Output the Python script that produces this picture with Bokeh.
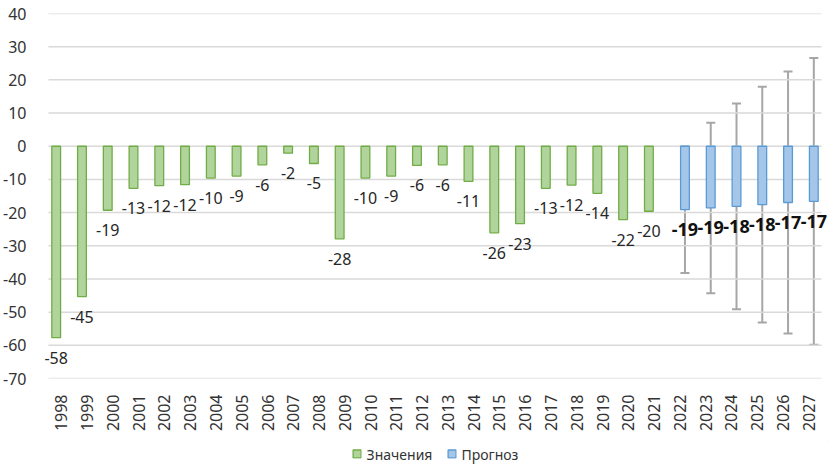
import math
from bokeh.plotting import figure
from bokeh.layouts import column
from bokeh.models import (ColumnDataSource, FixedTicker, Range1d, Whisker, TeeHead,
                          Legend, LegendItem, LabelSet)
from bokeh.transform import dodge
from bokeh.core.properties import value
from bokeh.embed import file_html
from bokeh.resources import INLINE

years = [str(y) for y in range(1998, 2028)]
hist_years = years[:24]
fc_years = years[24:]
hist_values = [-57.7, -45.3, -19.3, -12.7, -11.9, -11.6, -9.6, -9.0, -5.6, -2.1,
               -5.2, -27.9, -9.6, -9.0, -5.8, -5.6, -10.6, -26.1, -23.3, -12.7,
               -11.7, -14.2, -22.1, -19.6]
fc_values = [-19.1, -18.6, -18.1, -17.6, -16.96, -16.6]
fc_err = [19.1, 25.7, 31.0, 35.5, 39.5, 43.2]
y_ticks = list(range(-70, 41, 10))
legend_labels = ["Значения", "Прогноз"]

FONT = "Noto Sans"
GREEN_FILL = "#b0d49b"
GREEN_LINE = "#70ad47"
BLUE_FILL = "#a4c6e8"
BLUE_LINE = "#5b9bd5"

# layout in pixels: category band 43..821, frame widened so labels are not clipped
FIG_W = 828
FRAME_L = 37
CAT_W = (821 - 43) / len(years)
x_start = -0.5 - (43 - FRAME_L) / CAT_W
x_end = x_start + (FIG_W - FRAME_L) / CAT_W

idx = {y: i for i, y in enumerate(years)}
hist_src = ColumnDataSource(dict(
    x=[idx[y] for y in hist_years], top=hist_values,
    label=[str(int(round(v))) for v in hist_values]))
fc_src = ColumnDataSource(dict(
    x=[idx[y] for y in fc_years], top=fc_values,
    upper=[v + e for v, e in zip(fc_values, fc_err)],
    lower=[v - e for v, e in zip(fc_values, fc_err)],
    label=[str(int(round(v))) for v in fc_values]))

p = figure(width=FIG_W, height=440, output_backend="svg", toolbar_location=None,
           x_range=Range1d(x_start, x_end), y_range=Range1d(-70, 40),
           min_border_left=FRAME_L, min_border_right=0, min_border_top=13,
           min_border_bottom=62)
p.outline_line_color = None
p.background_fill_color = "white"

# horizontal grid lines spanning the category band only
p.segment(x0=[-0.5] * len(y_ticks), x1=[len(years) - 0.5] * len(y_ticks),
          y0=y_ticks, y1=y_ticks, line_color="#d9d9d9", line_width=1.5)

OFF = 0.2
W = 0.34
r_hist = p.vbar(x=dodge("x", -OFF), top="top", bottom=0, width=W, source=hist_src,
                fill_color=GREEN_FILL, line_color=GREEN_LINE, line_width=1.3)
r_fc = p.vbar(x=dodge("x", OFF), top="top", bottom=0, width=W, source=fc_src,
              fill_color=BLUE_FILL, line_color=BLUE_LINE, line_width=1.3)

wh = Whisker(base=dodge("x", OFF), upper="upper", lower="lower", source=fc_src,
             dimension="height", line_color="#a6a6a6", line_width=2,
             upper_head=TeeHead(size=9, line_color="#a6a6a6", line_width=2),
             lower_head=TeeHead(size=9, line_color="#a6a6a6", line_width=2))
p.add_layout(wh)

lab_hist = LabelSet(x=dodge("x", -OFF), y="top", text="label", source=hist_src,
                    text_align="center", text_baseline="middle", y_offset=-20,
                    text_font=value(FONT), text_font_size=value("16px"),
                    text_color="#262626")
lab_fc = LabelSet(x=dodge("x", OFF), y="top", text="label", source=fc_src,
                  text_align="center", text_baseline="middle", y_offset=-20,
                  text_font=value(FONT), text_font_size=value("18px"),
                  text_font_style="bold", text_color="#111111")
p.add_layout(lab_hist)
p.add_layout(lab_fc)

# axes
p.yaxis.ticker = FixedTicker(ticks=y_ticks)
p.yaxis.major_label_overrides = {t: str(t) for t in y_ticks}
p.yaxis.axis_line_color = None
p.yaxis.major_tick_line_color = None
p.yaxis.minor_tick_line_color = None
p.yaxis.major_label_standoff = 10
p.yaxis.major_label_text_font = FONT
p.yaxis.major_label_text_font_size = "16px"
p.yaxis.major_label_text_color = "#333333"

p.xaxis.ticker = FixedTicker(ticks=list(range(len(years))))
p.xaxis.major_label_overrides = {i: y for i, y in enumerate(years)}
p.xaxis.major_label_orientation = math.pi / 2
p.xaxis.axis_line_color = None
p.xaxis.major_tick_line_color = None
p.xaxis.minor_tick_line_color = None
p.xaxis.major_label_standoff = 10
p.xaxis.major_label_text_font = FONT
p.xaxis.major_label_text_font_size = "16px"
p.xaxis.major_label_text_color = "#333333"

p.grid.visible = False

# legend strip
p2 = figure(width=FIG_W, height=27, output_backend="svg", toolbar_location=None,
            x_range=Range1d(0, 1), y_range=Range1d(0, 1),
            x_axis_location=None, y_axis_location=None, min_border=0)
p2.outline_line_color = None
p2.grid.visible = False
g1 = p2.vbar(x=[5], top=[5], bottom=[4], width=0.1, fill_color=GREEN_FILL,
             line_color=GREEN_LINE, line_width=1.3)
g2 = p2.vbar(x=[6], top=[5], bottom=[4], width=0.1, fill_color=BLUE_FILL,
             line_color=BLUE_LINE, line_width=1.3)
legend = Legend(items=[LegendItem(label=legend_labels[0], renderers=[g1]),
                       LegendItem(label=legend_labels[1], renderers=[g2])],
                orientation="horizontal", location="center",
                label_text_font=FONT, label_text_font_size="14px",
                label_text_color="#333333", glyph_width=10, glyph_height=10,
                label_standoff=5, spacing=14, padding=0,
                margin=0, border_line_color=None, background_fill_alpha=0)
p2.add_layout(legend, "center")

open("out.html", "w").write(file_html(column(p, p2), INLINE))
